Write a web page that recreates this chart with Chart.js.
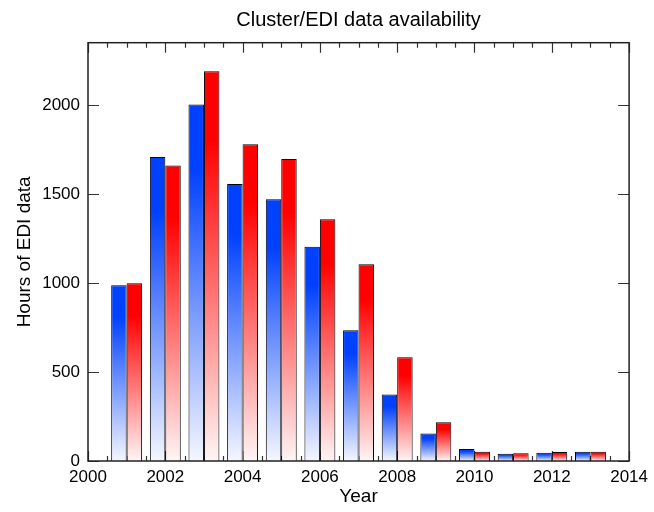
<!DOCTYPE html>
<html>
<head>
<meta charset="utf-8">
<script src="https://cdn.jsdelivr.net/npm/chart.js@4/dist/chart.umd.min.js"></script>
<style>
  html, body { margin: 0; padding: 0; background: #fff; }
</style>
</head>
<body>
<canvas id="chart" width="654" height="512"></canvas>
<script>
const years = [2001, 2002, 2003, 2004, 2005, 2006, 2007, 2008, 2009, 2010, 2011, 2012, 2013];
const blueHours = [987, 1708, 2003, 1556, 1470, 1204, 735, 373, 155, 67, 41, 47, 52];
const redHours = [998, 1660, 2190, 1779, 1697, 1358, 1105, 583, 217, 52, 43, 50, 52];
const xTicks = [2000, 2002, 2004, 2006, 2008, 2010, 2012, 2014];
const yTicks = [0, 500, 1000, 1500, 2000];

const FONT = '"Liberation Sans", Arial, Helvetica, sans-serif';
const BLUE = [0, 64, 255];
const RED = [255, 0, 0];

function mix(c, t) {
  // t = 0 -> white, t = 1 -> full colour
  return `rgb(${c.map(v => Math.round(255 + (v - 255) * t)).join(',')})`;
}

// white at the base of each bar, full colour near the top
function gradientFill(c) {
  return ctx => {
    const chart = ctx.chart;
    if (!chart.chartArea || !ctx.parsed) return mix(c, 1);
    const y = chart.scales.y;
    const top = y.getPixelForValue(ctx.parsed.y);
    const base = y.getPixelForValue(0);
    const g = chart.ctx.createLinearGradient(0, base, 0, top);
    g.addColorStop(0, mix(c, 0.04));
    g.addColorStop(0.82, mix(c, 1));
    g.addColorStop(1, mix(c, 1));
    return g;
  };
}

const frameTicks = {
  id: 'frameTicks',
  beforeDatasetsDraw(chart) {
    const { ctx, chartArea: a, scales: { x, y } } = chart;
    ctx.save();
    ctx.strokeStyle = '#333';
    ctx.lineWidth = 1.2;
    ctx.beginPath();
    for (let v = xTicks[0]; v <= xTicks[xTicks.length - 1]; v += 0.5) {
      const px = Math.round(x.getPixelForValue(v)) + 0.5;
      const len = xTicks.includes(v) ? 10 : 5;
      ctx.moveTo(px, a.top); ctx.lineTo(px, a.top + len);
      ctx.moveTo(px, a.bottom); ctx.lineTo(px, a.bottom - len);
    }
    yTicks.forEach(v => {
      const py = Math.round(y.getPixelForValue(v)) + 0.5;
      ctx.moveTo(a.left, py); ctx.lineTo(a.left + 11, py);
      ctx.moveTo(a.right, py); ctx.lineTo(a.right - 11, py);
    });
    ctx.stroke();
    ctx.restore();
  },
  afterDatasetsDraw(chart) {
    const { ctx, chartArea: a } = chart;
    ctx.save();
    ctx.strokeStyle = '#222';
    ctx.lineWidth = 1.5;
    ctx.strokeRect(a.left, a.top, a.right - a.left, a.bottom - a.top);
    ctx.restore();
  }
};

new Chart(document.getElementById('chart').getContext('2d'), {
  type: 'bar',
  data: {
    datasets: [
      {
        label: 'Series 1',
        data: years.map((yr, i) => ({ x: yr, y: blueHours[i] })),
        backgroundColor: gradientFill(BLUE),
        borderColor: '#000',
        borderWidth: 1,
        borderSkipped: 'bottom'
      },
      {
        label: 'Series 2',
        data: years.map((yr, i) => ({ x: yr, y: redHours[i] })),
        backgroundColor: gradientFill(RED),
        borderColor: '#000',
        borderWidth: 1,
        borderSkipped: 'bottom'
      }
    ]
  },
  options: {
    responsive: false,
    animation: false,
    categoryPercentage: 0.8,
    barPercentage: 1.0,
    layout: { padding: { left: 0, right: 22, top: 0, bottom: 0 } },
    plugins: {
      legend: { display: false },
      tooltip: { enabled: false },
      title: {
        display: true,
        fullSize: false,
        text: 'Cluster/EDI data availability',
        color: '#000',
        font: { family: FONT, size: 20, weight: 'normal' },
        padding: { top: 8, bottom: 10.7 }
      }
    },
    scales: {
      x: {
        type: 'linear',
        offset: false,
        min: 2000,
        max: 2014,
        afterBuildTicks: s => { s.ticks = xTicks.map(v => ({ value: v })); },
        afterFit: s => { s.height = 51; },
        grid: { display: false, drawTicks: false },
        border: { display: false },
        ticks: {
          color: '#000',
          font: { family: FONT, size: 17 },
          padding: 6,
          maxRotation: 0,
          callback: v => String(v)
        },
        title: {
          display: true,
          text: 'Year',
          color: '#000',
          font: { family: FONT, size: 19 },
          padding: { top: 0, bottom: 4 }
        }
      },
      y: {
        min: 0,
        max: 2350,
        afterBuildTicks: s => { s.ticks = yTicks.map(v => ({ value: v })); },
        afterFit: s => { s.width = 88; },
        grid: { display: false, drawTicks: false },
        border: { display: false },
        ticks: {
          color: '#000',
          font: { family: FONT, size: 17 },
          padding: 8,
          callback: v => String(v)
        },
        title: {
          display: true,
          text: 'Hours of EDI data',
          color: '#000',
          font: { family: FONT, size: 19 },
          padding: { top: 13, bottom: 0 }
        }
      }
    }
  },
  plugins: [frameTicks]
});
</script>
</body>
</html>
